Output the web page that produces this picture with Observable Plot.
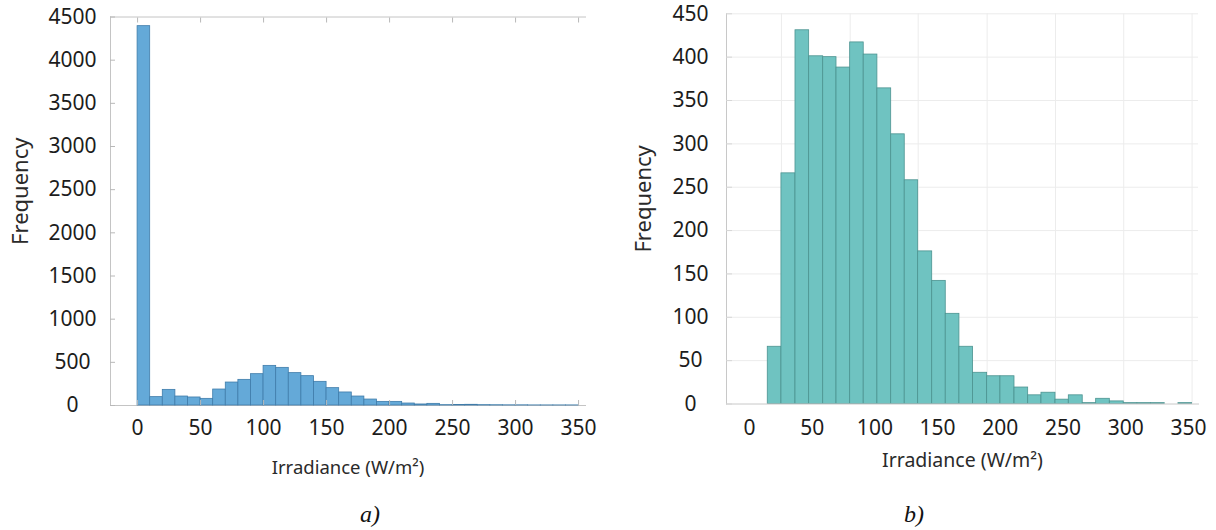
<!DOCTYPE html>
<html><head><meta charset="utf-8">
<script src="https://cdn.jsdelivr.net/npm/d3@7"></script>
<script src="https://cdn.jsdelivr.net/npm/@observablehq/plot@0.6"></script>
<style>
body{margin:0;background:#fff;}
#wrap{display:flex;width:1216px;height:530px;}
.col{position:relative;width:608px;height:530px;}
.col svg{position:absolute;left:0;top:0;}
.cap{position:absolute;top:500px;font-family:"Liberation Serif",serif;font-style:italic;font-size:24px;color:#111;line-height:28px;}
</style></head><body>
<div id="wrap">
  <div class="col" id="a"><div class="cap" style="left:360px">a)</div></div>
  <div class="col" id="b"><div class="cap" style="left:296px">b)</div></div>
</div>
<script>
// ---------- data ----------
const xTicks = [0, 50, 100, 150, 200, 250, 300, 350];
const xLabel = "Irradiance (W/m²)";
const yLabel = "Frequency";

// chart a)
const aBinStart = [0,10,20,30,40,50,60,70,80,90,100,110,120,130,140,150,160,170,180,190,200,210,220,230,240,250,260,270,280,290,300,310,320,330,340];
const aBinWidth = 10;
const aCounts = [4394,97,181,104,93,77,185,266,297,363,459,436,375,340,274,201,151,104,69,42,42,23,12,19,4,6,8,4,3,2,2,1,1,1,1];
const aYTicks = [0,500,1000,1500,2000,2500,3000,3500,4000,4500];

// chart b)
const bBinEdges = [14.6,25.5,36.7,47.6,58.8,69.4,80.3,91.1,102.0,113.0,123.8,134.5,145.7,156.5,167.4,178.3,189.5,200.1,211.3,222.2,232.8,244.0,254.6,265.7,276.4,287.3,298.4,309.3,320.2,331.1,342.0,352.9];
const bCounts = [66,266,431,401,400,388,417,403,364,311,258,176,142,104,66,36,32,32,19,10,13,5,10,1,6,3,1,1,1,0,1];
const bYTicks = [0,50,100,150,200,250,300,350,400,450];

const FONT = "'Noto Sans', sans-serif";
const fmt = d => String(d);

// ---------- chart a ----------
const aData = aBinStart.map((x0, i) => ({x1: x0, x2: x0 + aBinWidth, n: aCounts[i]}));
const plotA = Plot.plot({
  width: 608, height: 495,
  marginLeft: 110, marginRight: 23, marginTop: 16.5, marginBottom: 90,
  style: {fontFamily: FONT, fontSize: "21px", color: "#1c1c1c", background: "transparent"},
  x: {domain: [-21.5, 355.5], label: null},
  y: {domain: [0, 4500], label: null},
  marks: [
    Plot.frame({anchor: "top", stroke: "#c4c4c4"}),
    Plot.frame({anchor: "bottom", stroke: "#c4c4c4"}),
    Plot.frame({anchor: "left", stroke: "#c4c4c4"}),
    Plot.rectY(aData, {x1: "x1", x2: "x2", y: "n", fill: "#64a9d8", stroke: "#3f7caa", strokeWidth: 0.8}),
    Plot.axisX({ticks: xTicks, anchor: "bottom", tickSize: -5, tickFormat: () => "", stroke: "#b8b8b8", label: null}),
    Plot.axisX({ticks: xTicks, anchor: "top", tickSize: -5, tickFormat: () => "", stroke: "#b8b8b8", label: null}),
    Plot.axisY({ticks: aYTicks, anchor: "left", tickSize: -5, tickFormat: () => "", stroke: "#b8b8b8", label: null}),
    Plot.axisX({ticks: xTicks, anchor: "bottom", tickSize: 0, tickPadding: 15, tickFormat: fmt, fontSize: 21, label: null}),
    Plot.axisY({ticks: aYTicks, anchor: "left", tickSize: 0, tickPadding: 38, textAnchor: "middle", tickFormat: fmt, fontSize: 21, label: null}),
    Plot.text([yLabel], {text: d => d, frameAnchor: "left", textAnchor: "middle", dx: -90, dy: -20, rotate: -90, fontSize: 22, fill: "#2a2a2a"}),
    Plot.text([xLabel], {text: d => d, frameAnchor: "bottom", textAnchor: "middle", dy: 68, fontSize: 18.5, fill: "#2a2a2a"})
  ]
});
document.getElementById("a").prepend(plotA);

// ---------- chart b ----------
const bData = bCounts.map((n, i) => ({x1: bBinEdges[i], x2: bBinEdges[i + 1], n}));
const bGridX = bBinEdges.filter((d, i) => i % 5 === 1);
const plotB = Plot.plot({
  width: 608, height: 495,
  marginLeft: 118, marginRight: 18, marginTop: 13.3, marginBottom: 91.5,
  style: {fontFamily: FONT, fontSize: "21px", color: "#1c1c1c", background: "transparent"},
  x: {domain: [-18.3, 358], label: null},
  y: {domain: [0, 450], label: null},
  marks: [
    Plot.ruleY(bYTicks.filter(d => d > 0), {stroke: "#ececec"}),
    Plot.ruleX(bGridX, {stroke: "#ececec"}),
    Plot.rectY(bData, {x1: "x1", x2: "x2", y: "n", fill: "#6fc3c1", stroke: "#4c9390", strokeWidth: 0.8}),
    Plot.frame({anchor: "left", stroke: "#c8c8c8"}),
    Plot.frame({anchor: "bottom", stroke: "#c8c8c8"}),
    Plot.axisY({ticks: bYTicks, anchor: "left", tickSize: -6, tickFormat: () => "", stroke: "#d6d6d6", label: null}),
    Plot.axisX({ticks: xTicks, anchor: "bottom", tickSize: 0, tickPadding: 16.5, tickFormat: fmt, fontSize: 21, label: null}),
    Plot.axisY({ticks: bYTicks, anchor: "left", tickSize: 0, tickPadding: 36, textAnchor: "middle", tickFormat: fmt, fontSize: 21, label: null}),
    Plot.text([yLabel], {text: d => d, frameAnchor: "left", textAnchor: "middle", dx: -83, dy: -10, rotate: -90, fontSize: 22, fill: "#2a2a2a"}),
    Plot.text([xLabel], {text: d => d, frameAnchor: "bottom", textAnchor: "middle", dy: 63, fontSize: 19.5, fill: "#2a2a2a"})
  ]
});
document.getElementById("b").prepend(plotB);
</script>
</body></html>
